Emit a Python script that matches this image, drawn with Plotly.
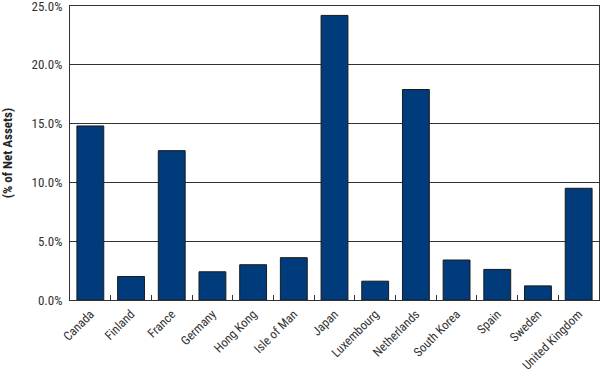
import plotly.graph_objects as go

countries = ["Canada", "Finland", "France", "Germany", "Hong Kong", "Isle of Man", "Japan",
             "Luxembourg", "Netherlands", "South Korea", "Spain", "Sweden", "United Kingdom"]
pct_net_assets = [14.8, 2.0, 12.7, 2.4, 3.0, 3.6, 24.2, 1.6, 17.9, 3.4, 2.6, 1.2, 9.5]
y_ticks = [0, 5, 10, 15, 20, 25]

font_family = "Liberation Sans Narrow, Arial Narrow, Roboto Condensed, Liberation Sans, sans-serif"

fig = go.Figure(go.Bar(
    x=countries, y=pct_net_assets,
    marker=dict(color="#003C7C", line=dict(color="#1a1a1a", width=1)),
))

fig.update_layout(
    width=600, height=373,
    margin=dict(l=70, r=1, t=6, b=73, autoexpand=False),
    paper_bgcolor="white", plot_bgcolor="white",
    bargap=0.34,
    showlegend=False,
    font=dict(family=font_family, size=13, color="#333333"),
)
fig.update_yaxes(
    range=[0, 25], tickvals=y_ticks, ticktext=[f"{v:.1f}%" for v in y_ticks],
    showgrid=True, gridcolor="#333333", gridwidth=1,
    showline=True, linecolor="#333333", linewidth=1, mirror=True,
    ticks="", zeroline=False, ticklabeloverflow="allow", ticklabelstandoff=4,
    automargin=False,
    tickfont=dict(size=13, color="#333333"),
    title=dict(text="<b>(% of Net Assets)</b>", font=dict(size=13, color="#222222"), standoff=20),
)
fig.update_xaxes(
    showline=True, linecolor="#333333", linewidth=1, mirror=True,
    ticks="inside", tickson="boundaries", ticklen=5, tickcolor="#333333",
    ticklabelstandoff=1, automargin=False,
    tickangle=-45, tickfont=dict(size=12.5, color="#333333"),
)

fig.write_html("out.html")
